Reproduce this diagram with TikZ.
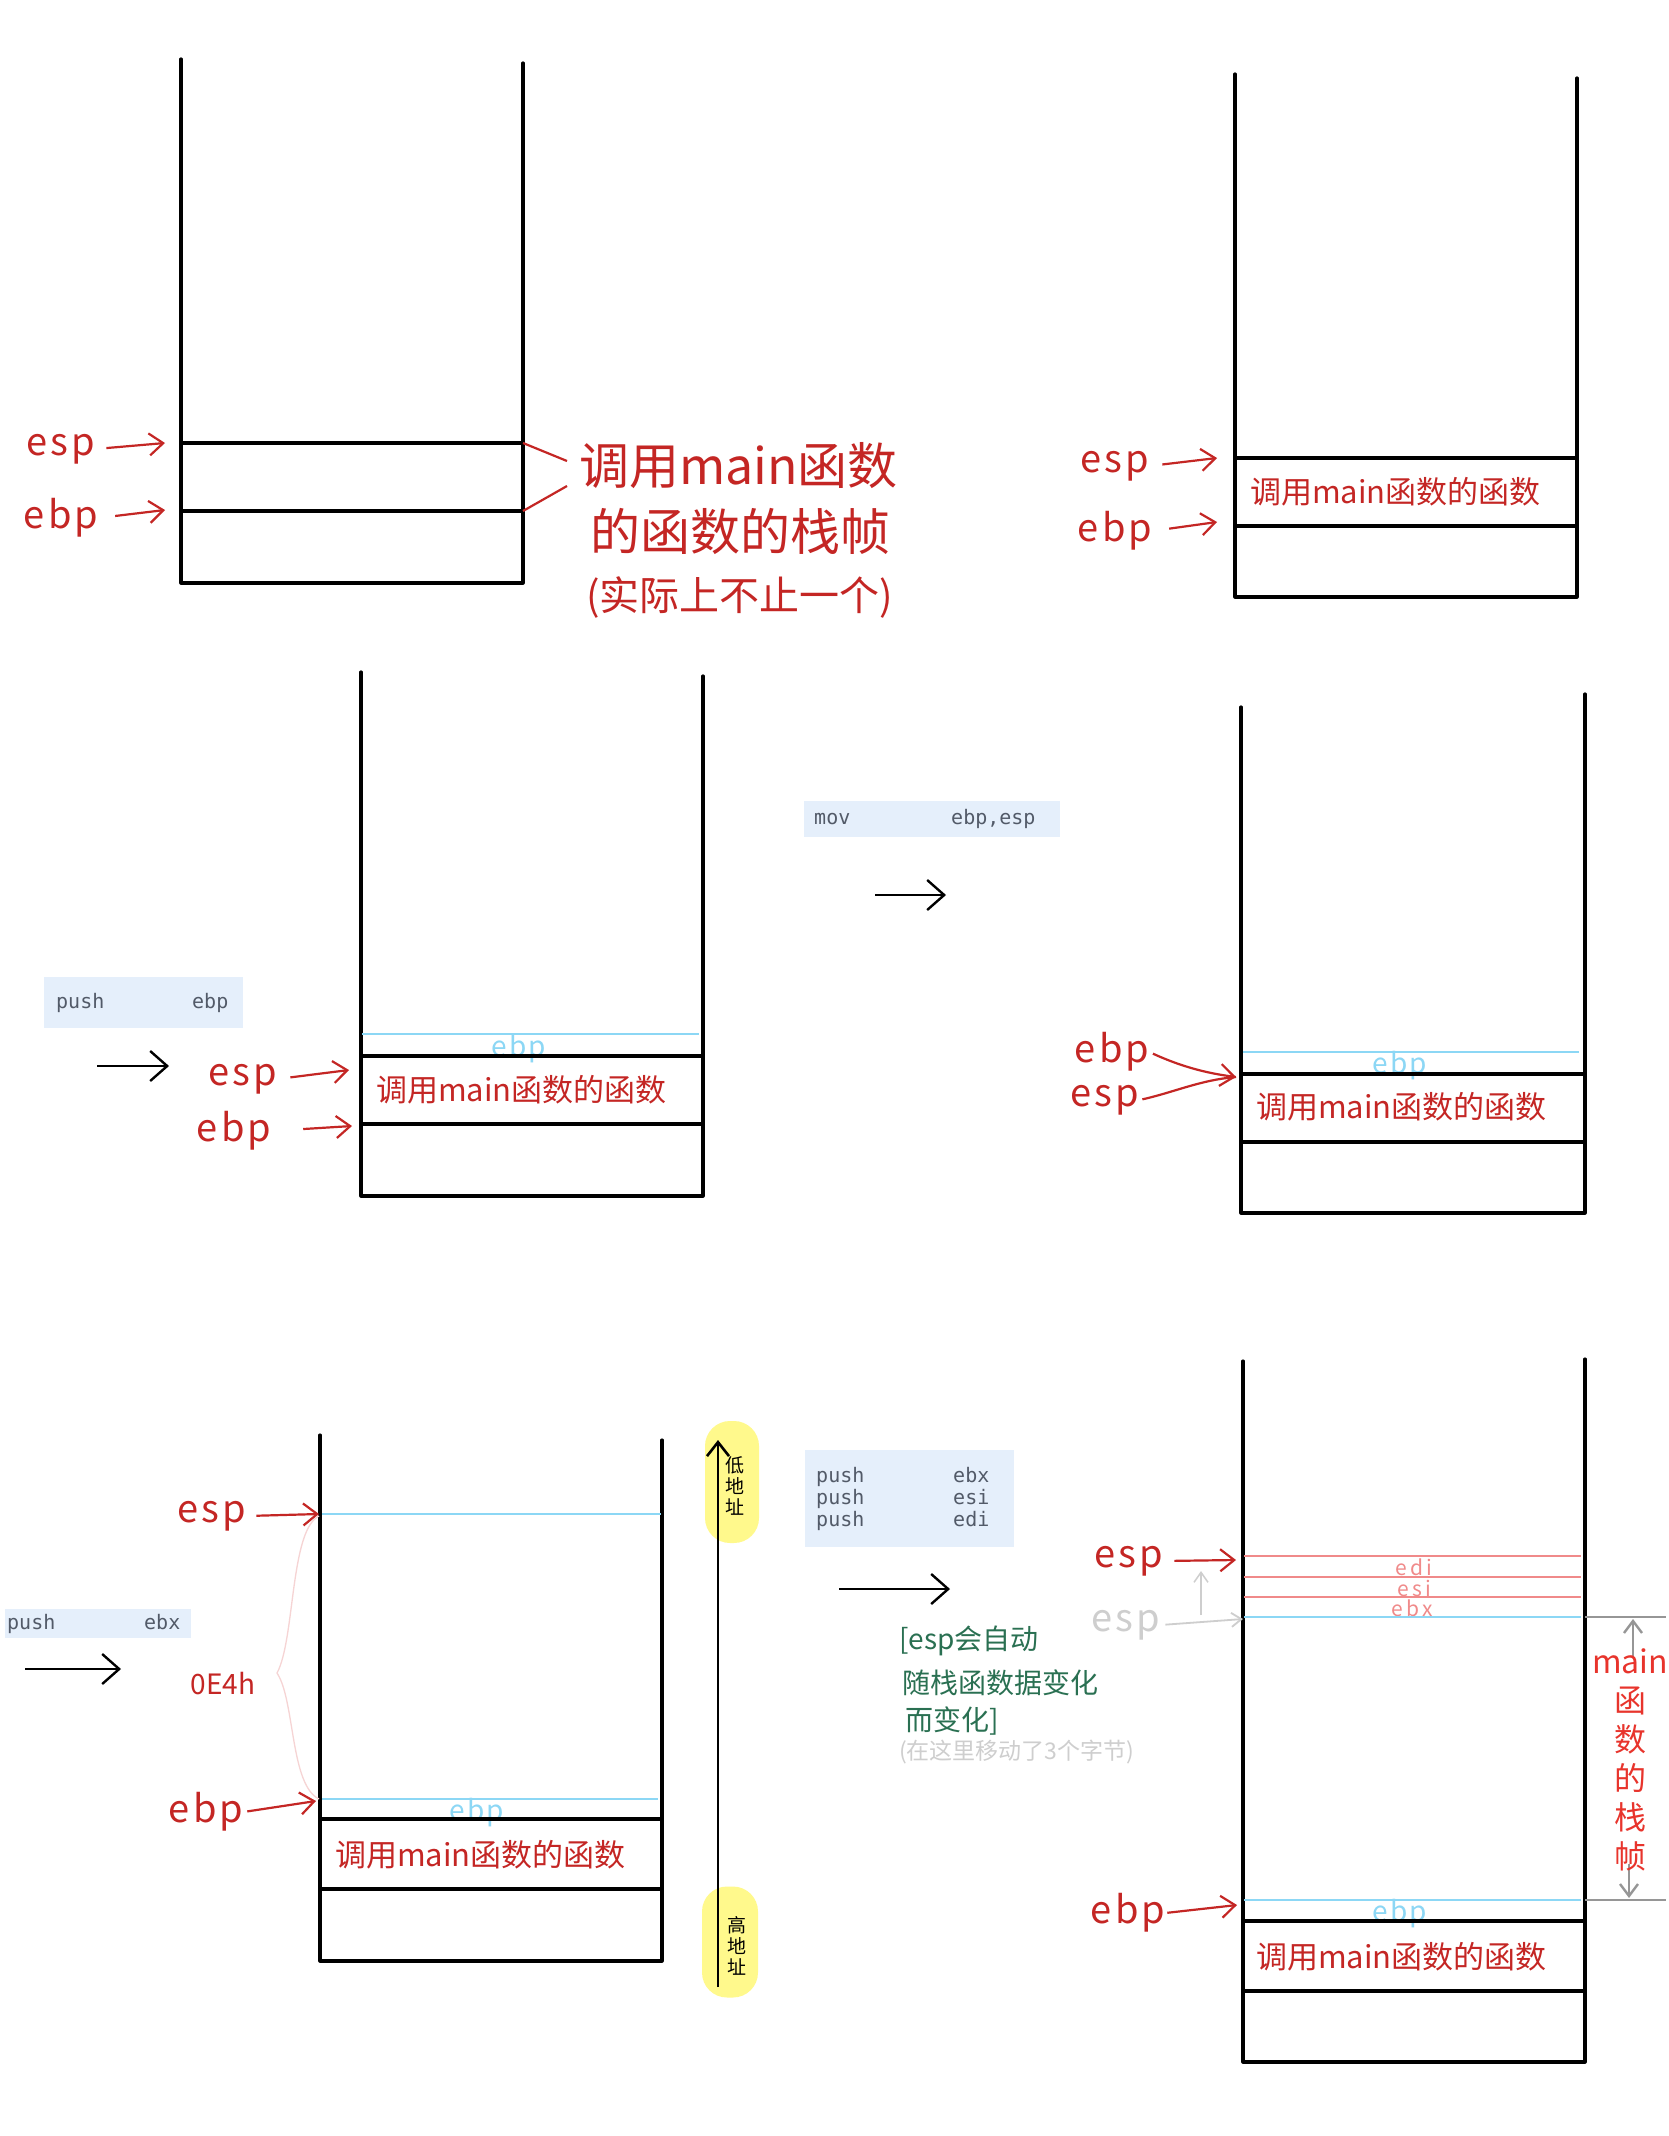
\documentclass[tikz,border=0pt]{standalone}
\usepackage{fontspec}
\setmainfont{Noto Sans CJK SC}
\newfontfamily\monof{DejaVu Sans Mono}
\usetikzlibrary{arrows.meta}
\definecolor{hred}{RGB}{196,38,36}
\definecolor{bred}{RGB}{232,52,44}
\definecolor{cyanl}{RGB}{140,215,245}
\definecolor{salm}{RGB}{240,138,138}
\definecolor{codebg}{RGB}{229,239,251}
\definecolor{codefg}{RGB}{82,90,104}
\definecolor{hgreen}{RGB}{42,112,82}
\definecolor{lgrey}{RGB}{206,206,206}
\definecolor{dgrey}{RGB}{150,150,150}
\definecolor{lpink}{RGB}{246,212,212}
\definecolor{hyel}{RGB}{255,249,140}
\newcommand\myfs[1]{\fontsize{#1}{#1}\selectfont}
\begin{document}
\begin{tikzpicture}[x=1pt,y=-1pt,
  wall/.style={line width=3.2pt,line cap=round,line join=round},
  hline/.style={line width=3.2pt},
  cyanln/.style={cyanl,line width=2.8pt},
  salln/.style={salm,line width=2.6pt},
  redarr/.style={hred,line width=2.2pt,-{Straight Barb[length=14pt,width=22pt]}},
  redln/.style={hred,line width=2.2pt},
  blkarr/.style={black,line width=2.4pt,-{Straight Barb[length=17pt,width=30pt]}},
  greyarr/.style={lgrey,line width=1.8pt,-{Straight Barb[length=10pt,width=14pt]}},
  dimarr/.style={dgrey,line width=2.4pt,-{Straight Barb[length=12pt,width=18pt]}},
  redlbl/.style={hred,font=\myfs{38}\addfontfeature{LetterSpace=8},inner sep=0pt},
  cyanlbl/.style={cyanl,font=\myfs{28}\addfontfeature{LetterSpace=8},inner sep=0pt},
  sallbl/.style={salm,font=\myfs{21}\addfontfeature{LetterSpace=16},inner sep=0pt},
  boxtxt/.style={hred,font=\myfs{31},inner sep=0pt,anchor=west},
  bigtxt/.style={hred,font=\myfs{50},inner sep=0pt,anchor=west},
  greentxt/.style={hgreen,font=\myfs{28},inner sep=0pt,anchor=west},
  codebox/.style={fill=codebg,text=codefg,font=\monof\fontsize{20}{22}\selectfont,anchor=north west,align=left,inner ysep=0pt},
  yblob/.style={fill=hyel,rounded corners=25pt,inner sep=0pt}
]
\fill[white] (0,0) rectangle (1668,2136);
\useasboundingbox (0,0) rectangle (1668,2136);

% ================= Panel 1 =================
\draw[wall] (181,59) -- (181,583) -- (523,583) -- (523,63);
\draw[hline] (181,443) -- (523,443);
\draw[hline] (181,511) -- (523,511);
\node[redlbl] (esp1) at (61,449) {esp};
\node[redlbl] (ebp1) at (61,518) {ebp};
\coordinate (p1s) at (165,443);
\coordinate (p1b) at (165,510);
\draw[redarr,shorten <=11pt] (esp1.east) -- (p1s);
\draw[redarr,shorten <=17pt] (ebp1.east) -- (p1b);
\coordinate (r1a) at (523,443); \coordinate (r1b) at (567,461);
\coordinate (r1c) at (523,511); \coordinate (r1d) at (567,486);
\draw[redln] (r1a) -- (r1b);
\draw[redln] (r1c) -- (r1d);
\node[bigtxt] (t1a) at (579,466) {调用main函数};
\node[bigtxt] (t1b) at (590,531) {的函数的栈帧};
\node[bigtxt,font=\myfs{40}] (t1c) at (586,597) {(实际上不止一个)};

% ================= Panel 2 =================
\draw[wall] (1235,74) -- (1235,597) -- (1577,597) -- (1577,78);
\draw[hline] (1235,458) -- (1577,458);
\draw[hline] (1235,526) -- (1577,526);
\node[redlbl] (esp2) at (1115,466) {esp};
\node[redlbl] (ebp2) at (1115,531) {ebp};
\coordinate (p2s) at (1217,458);
\coordinate (p2b) at (1217,522);
\draw[redarr,shorten <=13pt] (esp2.east) -- (p2s);
\draw[redarr,shorten <=17pt] (ebp2.east) -- (p2b);
\node[boxtxt] (t2) at (1250,492) {调用main函数的函数};

% ================= Panel 3 =================
\node[codebox,inner xsep=12pt,text width=175pt,minimum height=51pt] (cb3) at (44,977) {\makebox[136pt][l]{push}ebp};
\coordinate (k3a) at (97,1066); \coordinate (k3b) at (169,1066);
\draw[blkarr] (k3a) -- (k3b);
\draw[wall] (361,672) -- (361,1196) -- (703,1196) -- (703,676);
\draw[cyanln] (362,1034) -- (699,1034);
\node[cyanlbl] (c3) at (519,1049) {ebp};
\draw[hline] (361,1056) -- (703,1056);
\draw[hline] (361,1124) -- (703,1124);
\node[redlbl] (esp3) at (243,1079) {esp};
\node[redlbl] (ebp3) at (234,1131) {ebp};
\coordinate (p3s) at (349,1070);
\coordinate (p3b) at (352,1126);
\draw[redarr,shorten <=13pt] (esp3.east) -- (p3s);
\draw[redarr,shorten <=32pt] (ebp3.east) -- (p3b);
\node[boxtxt] (t3) at (376,1090) {调用main函数的函数};

% ================= Panel 4 =================
\node[codebox,inner xsep=10pt,text width=236pt,minimum height=36pt] (cb4) at (804,801) {\makebox[137pt][l]{mov}ebp,esp};
\coordinate (k4a) at (875,895); \coordinate (k4b) at (946,895);
\draw[blkarr] (k4a) -- (k4b);
\draw[wall] (1241,707) -- (1241,1213) -- (1585,1213) -- (1585,694);
\draw[cyanln] (1243,1052) -- (1579,1052);
\node[cyanlbl] (c4) at (1400,1066) {ebp};
\draw[hline] (1241,1074) -- (1585,1074);
\draw[hline] (1241,1142) -- (1585,1142);
\node[redlbl] (ebp4) at (1112,1052) {ebp};
\node[redlbl] (esp4) at (1105,1100) {esp};
\coordinate (t4) at (1236,1077);
\draw[redarr,shorten <=4pt] (ebp4.east) .. controls (1180,1066) and (1205,1073) .. (t4);
\draw[redln,shorten <=3pt] (esp4.east) .. controls (1175,1092) and (1200,1080) .. (t4);
\node[boxtxt] (t4t) at (1256,1107) {调用main函数的函数};

% ================= Panel 5 =================
\node[codebox,inner xsep=2pt,text width=182pt,minimum height=29pt] (cb5) at (5,1609) {\makebox[137pt][l]{push}ebx};
\coordinate (k5a) at (25,1669); \coordinate (k5b) at (121,1669);
\draw[blkarr] (k5a) -- (k5b);
\draw[wall] (320,1435) -- (320,1961) -- (662,1961) -- (662,1440);
\draw[cyanln] (322,1514) -- (661,1514);
\draw[cyanln] (322,1799) -- (658,1799);
\node[cyanlbl] (c5) at (477,1813) {ebp};
\draw[hline] (320,1819) -- (662,1819);
\draw[hline] (320,1889) -- (662,1889);
\node[redlbl] (esp5) at (212,1516) {esp};
\node[redlbl] (ebp5) at (206,1812) {ebp};
\coordinate (p5s) at (319,1514);
\coordinate (p5b) at (316,1801);
\draw[redarr,shorten <=10pt] (esp5.east) -- (p5s);
\draw[redarr,shorten <=4pt] (ebp5.east) -- (p5b);
\node[hred,font=\myfs{28},inner sep=0pt] (oe) at (223,1684) {0E4h};
\coordinate (b5t) at (319,1516); \coordinate (b5m) at (277,1673); \coordinate (b5b) at (319,1799);
\draw[lpink,line width=1.3pt] (b5t) .. controls (290,1530) and (295,1640) .. (b5m) .. controls (295,1700) and (290,1785) .. (b5b);
\node[boxtxt] (t5) at (335,1855) {调用main函数的函数};

% address axis
\node[yblob,minimum width=54pt,minimum height=122pt] (y1) at (732,1482) {};
\node[yblob,minimum width=56pt,minimum height=111pt] (y2) at (730,1942) {};
\coordinate (hi) at (718,1987); \coordinate (lo) at (718,1440);
\draw[black,line width=2.6pt,-{Straight Barb[length=14pt,width=22pt]}] (hi) -- (lo);
\node[font=\fontsize{19}{21}\selectfont,align=center,inner sep=0pt] (lowa) at (735,1486) {低\\地\\址};
\node[font=\fontsize{19}{21}\selectfont,align=center,inner sep=0pt] (higha) at (737,1946) {高\\地\\址};

% ================= Panel 6 =================
\node[codebox,inner xsep=11pt,text width=187pt,minimum height=97pt] (cb6) at (805,1450) {\makebox[137pt][l]{push}ebx\\\makebox[137pt][l]{push}esi\\\makebox[137pt][l]{push}edi};
\coordinate (k6a) at (839,1589); \coordinate (k6b) at (950,1589);
\draw[blkarr] (k6a) -- (k6b);
\node[greentxt] (g1) at (899,1641) {[esp会自动};
\node[greentxt] (g2) at (902,1683) {随栈函数据变化};
\node[greentxt] (g3) at (905,1721) {而变化]};
\node[lgrey,font=\myfs{23},inner sep=0pt,anchor=west] (g4) at (899,1752) {(在这里移动了3个字节)};

\draw[wall] (1243,1361) -- (1243,2062) -- (1585,2062) -- (1585,1359);
\draw[salln] (1244,1556) -- (1581,1556);
\draw[salln] (1244,1577) -- (1581,1577);
\draw[salln] (1244,1597) -- (1581,1597);
\node[sallbl] (s1) at (1414,1567) {edi};
\node[sallbl] (s2) at (1414,1588) {esi};
\node[sallbl] (s3) at (1412,1608) {ebx};
\draw[cyanln] (1244,1617) -- (1581,1617);
\draw[cyanln] (1244,1900) -- (1581,1900);
\node[cyanlbl] (c6) at (1400,1914) {ebp};
\draw[hline] (1243,1921) -- (1585,1921);
\draw[hline] (1243,1991) -- (1585,1991);
\node[redlbl] (esp6) at (1129,1561) {esp};
\node[lgrey,font=\myfs{38}\addfontfeature{LetterSpace=8},inner sep=0pt] (gesp) at (1126,1625) {esp};
\node[redlbl] (ebp6) at (1128,1913) {ebp};
\coordinate (p6s) at (1236,1560);
\coordinate (p6g) at (1243,1619);
\coordinate (p6b) at (1237,1905);
\draw[redarr,shorten <=11pt] (esp6.east) -- (p6s);
\draw[greyarr,shorten <=5pt] (gesp.east) -- (p6g);
\draw[redarr,shorten <=2pt] (ebp6.east) -- (p6b);
\coordinate (u1) at (1201,1615); \coordinate (u2) at (1201,1571);
\draw[greyarr,line width=1.5pt] (u1) -- (u2);
\node[boxtxt] (t6) at (1256,1957) {调用main函数的函数};
% dimension
\draw[dgrey,line width=2.4pt] (1585,1617) -- (1666,1617);
\draw[dgrey,line width=2.4pt] (1585,1900) -- (1666,1900);
\coordinate (d1a) at (1633,1657); \coordinate (d1b) at (1633,1619);
\coordinate (d2a) at (1629,1864); \coordinate (d2b) at (1629,1898);
\draw[dimarr] (d1a) -- (d1b);
\draw[dimarr] (d2a) -- (d2b);
\node[bred,font=\fontsize{32}{39}\selectfont,align=center,inner sep=0pt] (mf) at (1630,1760) {main\\函\\数\\的\\栈\\帧};
\end{tikzpicture}
\end{document}
